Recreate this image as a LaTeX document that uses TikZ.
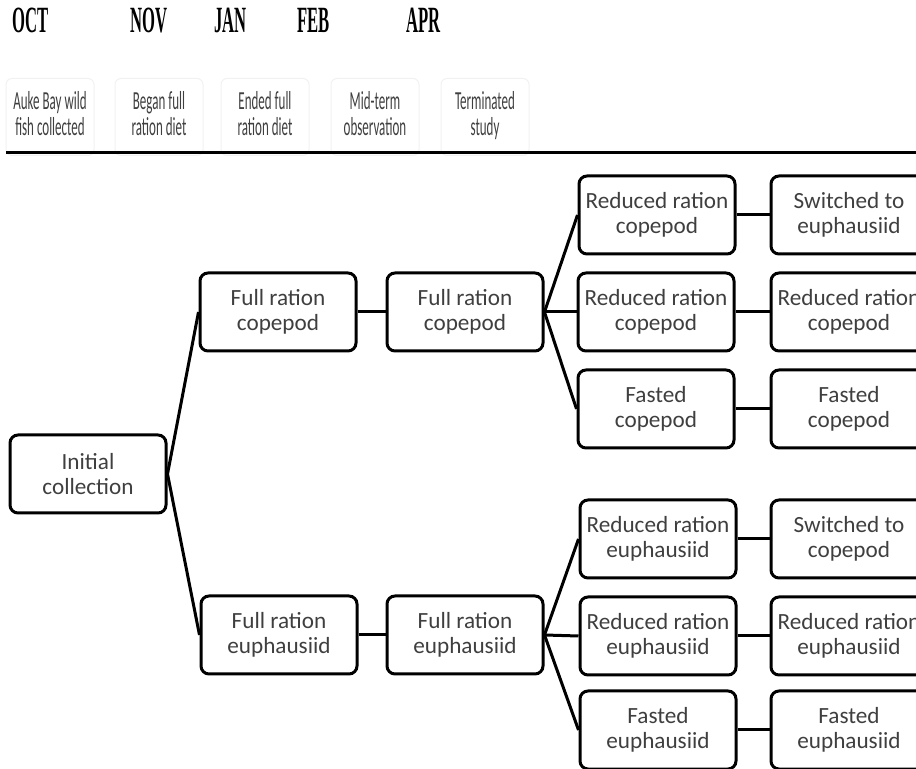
\documentclass[tikz,border=0pt]{standalone}
\usepackage{fontspec}
\setmainfont{Carlito}
\newfontfamily\monthfont{Liberation Serif}
\usepackage{tikz}
\usetikzlibrary{positioning}
\definecolor{boxtext}{HTML}{3F3F3F}
\definecolor{hdrline}{HTML}{F1F1F1}
\newcommand{\monthlabel}[1]{\scalebox{0.45}[1]{\fontsize{18.5}{19}\monthfont\bfseries #1}}
\newcommand{\hdrlabel}[2]{\scalebox{0.5}[1]{\begin{tabular}{@{}c@{}}#1\\#2\end{tabular}}}

\begin{document}
\begin{tikzpicture}[x=0.5pt,y=-0.5pt,
    box/.style={draw,line width=1.5pt,rounded corners=4pt,minimum width=78pt,minimum height=39pt,
      inner sep=0pt,align=center,text=boxtext,font=\fontsize{11.6}{12.2}\selectfont},
    hdrbox/.style={draw=hdrline,line width=0.5pt,rounded corners=3pt,minimum width=44pt,minimum height=38.5pt,
      inner sep=0pt,text=boxtext,font=\fontsize{13}{13.2}\selectfont},
    link/.style={line width=1.5pt}]
  \useasboundingbox (0,0) rectangle (916,769);
  \clip (0,0) rectangle (916,769);
  % months
  \node[anchor=base west,inner sep=0pt] (oct) at (12,33) {\monthlabel{OCT}};
  \node[anchor=base west,inner sep=0pt] (nov) at (130,33) {\monthlabel{NOV}};
  \node[anchor=base west,inner sep=0pt] (jan) at (214,33) {\monthlabel{JAN}};
  \node[anchor=base west,inner sep=0pt] (feb) at (297,33) {\monthlabel{FEB}};
  \node[anchor=base west,inner sep=0pt] (apr) at (406,33) {\monthlabel{APR}};
  % stage headers
  \node[hdrbox] (hcollect) at (50,117) {\hdrlabel{Auke Bay wild}{fish collected}};
  \node[hdrbox] (hbegan) at (159,117) {\hdrlabel{Began full}{ration diet}};
  \node[hdrbox] (hended) at (265,117) {\hdrlabel{Ended full}{ration diet}};
  \node[hdrbox] (hmid) at (375,117) {\hdrlabel{Mid-term}{observation}};
  \node[hdrbox] (hend) at (485,117) {\hdrlabel{Terminated}{study}};
  \draw[line width=1.5pt] (6,153) -- (916,153);
  % boxes
  \node[box] (init) at (88,474) {Initial\\collection};
  \node[box] (cop2) at (278,312) {Full ration\\copepod};
  \node[box] (cop3) at (465,312) {Full ration\\copepod};
  \node[box] (eup2) at (279,635) {Full ration\\euphausiid};
  \node[box] (eup3) at (465,635) {Full ration\\euphausiid};
  \node[box] (copred) at (657,215) {Reduced ration\\copepod};
  \node[box] (copred2) at (656,312) {Reduced ration\\copepod};
  \node[box] (copfast) at (656,409) {Fasted\\copepod};
  \node[box] (copswitch) at (849,215) {Switched to\\euphausiid};
  \node[box] (copredend) at (849,312) {Reduced ration\\copepod};
  \node[box] (copfastend) at (849,409) {Fasted\\copepod};
  \node[box] (eupred) at (658,539) {Reduced ration\\euphausiid};
  \node[box] (eupred2) at (658,636) {Reduced ration\\euphausiid};
  \node[box] (eupfast) at (658,730) {Fasted\\euphausiid};
  \node[box] (eupswitch) at (849,539) {Switched to\\copepod};
  \node[box] (eupredend) at (849,636) {Reduced ration\\euphausiid};
  \node[box] (eupfastend) at (849,730) {Fasted\\euphausiid};
  % links
  \draw[link] (init.east) -- (cop2.west);
  \draw[link] (init.east) -- (eup2.west);
  \draw[link] (cop2) -- (cop3);
  \draw[link] (eup2) -- (eup3);
  \draw[link] (cop3.east) -- (copred.west);
  \draw[link] (cop3.east) -- (copred2.west);
  \draw[link] (cop3.east) -- (copfast.west);
  \draw[link] (eup3.east) -- (eupred.west);
  \draw[link] (eup3.east) -- (eupred2.west);
  \draw[link] (eup3.east) -- (eupfast.west);
  \draw[link] (copred) -- (copswitch);
  \draw[link] (copred2) -- (copredend);
  \draw[link] (copfast) -- (copfastend);
  \draw[link] (eupred) -- (eupswitch);
  \draw[link] (eupred2) -- (eupredend);
  \draw[link] (eupfast) -- (eupfastend);
\end{tikzpicture}
\end{document}
